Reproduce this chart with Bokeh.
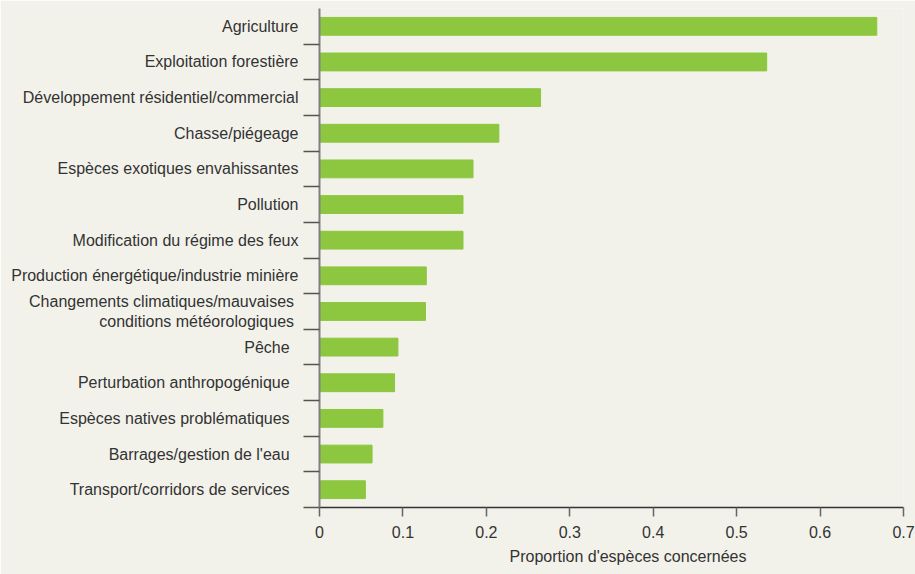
from bokeh.plotting import figure
from bokeh.models import Range1d, FixedTicker, Title
from bokeh.embed import file_html
from bokeh.resources import INLINE

categories = [
    "Agriculture",
    "Exploitation forestière",
    "Développement résidentiel/commercial",
    "Chasse/piégeage",
    "Espèces exotiques envahissantes",
    "Pollution",
    "Modification du régime des feux",
    "Production énergétique/industrie minière",
    "Changements climatiques/mauvaises\u00a0\nconditions météorologiques",
    "Pêche",
    "Perturbation anthropogénique",
    "Espèces natives problématiques",
    "Barrages/gestion de l'eau",
    "Transport/corridors de services",
]
values = [0.668, 0.536, 0.265, 0.215, 0.184, 0.172, 0.172, 0.128, 0.127,
          0.094, 0.090, 0.076, 0.063, 0.055]
label_pad = [0, 0, 0, 0, 0, 0, 0, 0, 1, 2, 2, 2, 2, 2]
x_ticks = [0, 0.1, 0.2, 0.3, 0.4, 0.5, 0.6, 0.7]
x_tick_labels = ["0", "0.1", "0.2", "0.3", "0.4", "0.5", "0.6", "0.7"]
x_label = "Proportion d'espèces concernées"

BG = "#f2f2ea"
BAR = "#8dc63f"
TXT = "#333333"
FONT = "Liberation Sans"

n = len(categories)
ypos = list(range(n))
boundaries = [i + 0.5 for i in range(n)]

p = figure(width=915, height=574, output_backend="svg", toolbar_location=None,
           x_range=Range1d(0, 0.7), y_range=Range1d(n - 0.5, -0.5),
           min_border_left=319, min_border_right=12, min_border_top=8,
           min_border_bottom=67)
p.background_fill_color = BG
p.border_fill_color = BG
p.outline_line_color = None
p.grid.visible = False

p.hbar(y=ypos, right=values, left=0, height=0.5, color=BAR)

# y axis
ya = p.yaxis[0]
ya.ticker = FixedTicker(ticks=ypos, minor_ticks=boundaries)
ya.major_label_overrides = {i: categories[i] + "\u00a0" * label_pad[i] for i in ypos}
ya.major_tick_line_color = None
ya.major_tick_out = 0
ya.major_tick_in = 0
ya.major_label_standoff = 5
ya.minor_tick_out = 16
ya.minor_tick_in = 0
ya.minor_tick_line_color = "#555555"
ya.minor_tick_line_width = 1.5
ya.axis_line_color = "#808080"
ya.axis_line_width = 2
ya.major_label_text_font = FONT
ya.major_label_text_font_size = "16px"
ya.major_label_text_color = TXT

# x axis
xa = p.xaxis[0]
xa.ticker = FixedTicker(ticks=x_ticks)
xa.major_label_overrides = {t: l for t, l in zip(x_ticks, x_tick_labels)}
xa.minor_tick_line_color = None
xa.major_tick_out = 9
xa.major_tick_in = 0
xa.major_tick_line_color = "#666666"
xa.major_tick_line_width = 1.5
xa.axis_line_color = "#333333"
xa.axis_line_width = 1.5
xa.major_label_standoff = 9
xa.major_label_text_font = FONT
xa.major_label_text_font_size = "16px"
xa.major_label_text_color = TXT

# x-axis title, below the tick labels, shifted right as in the original
xt = Title(text=x_label, align="left", offset=190, standoff=10,
           text_font=FONT, text_font_size="16px", text_font_style="normal",
           text_color=TXT)
p.add_layout(xt, "below")

open("out.html", "w").write(file_html(p, INLINE))
